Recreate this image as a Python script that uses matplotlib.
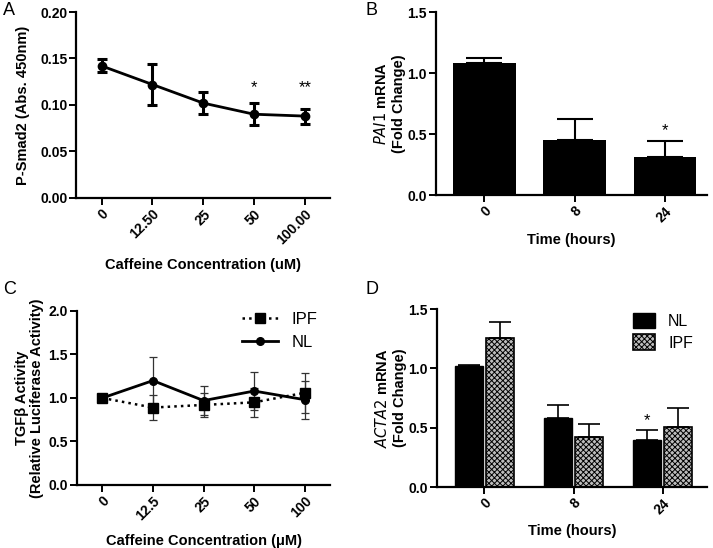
import matplotlib.pyplot as plt
from matplotlib.lines import Line2D
import numpy as np

plt.rcParams['font.family'] = ['Liberation Sans', 'DejaVu Sans']
plt.rcParams['hatch.linewidth'] = 0.7
plt.rcParams['hatch.color'] = '#444444'

# Panel A
a_labels = ['0', '12.50', '25', '50', '100.00']
a_vals = [0.142, 0.122, 0.102, 0.090, 0.088]
a_err = [0.007, 0.022, 0.012, 0.012, 0.008]
a_stars = ['', '', '', '*', '**']

# Panel B
b_labels = ['0', '8', '24']
b_vals = [1.08, 0.45, 0.31]
b_err = [0.04, 0.17, 0.13]
b_stars = ['', '', '*']

# Panel C
c_labels = ['0', '12.5', '25', '50', '100']
c_nl = [1.00, 1.20, 0.97, 1.08, 0.98]
c_nl_err = [0.0, 0.27, 0.17, 0.22, 0.22]
c_ipf = [1.00, 0.89, 0.92, 0.95, 1.06]
c_ipf_err = [0.0, 0.14, 0.14, 0.17, 0.23]

# Panel D
d_labels = ['0', '8', '24']
d_nl = [1.02, 0.58, 0.40]
d_nl_err = [0.005, 0.11, 0.08]
d_ipf = [1.26, 0.42, 0.51]
d_ipf_err = [0.13, 0.11, 0.16]
d_stars = ['', '', '*']

fig = plt.figure(figsize=(7.13, 5.48), dpi=100)
axA = fig.add_axes([0.107, 0.639, 0.356, 0.339])
axB = fig.add_axes([0.611, 0.644, 0.381, 0.334])
axC = fig.add_axes([0.108, 0.115, 0.355, 0.3175])
axD = fig.add_axes([0.613, 0.111, 0.379, 0.325])


def style(ax):
    ax.spines['top'].set_visible(False)
    ax.spines['right'].set_visible(False)
    ax.spines['left'].set_linewidth(1.6)
    ax.spines['bottom'].set_linewidth(1.6)
    ax.tick_params(width=1.4, length=5, labelsize=10, pad=1.5)
    for t in ax.get_yticklabels() + ax.get_xticklabels():
        t.set_fontweight('bold')


lab_kw = dict(fontsize=10.5, fontweight='bold')

# A
x = np.arange(len(a_vals))
axA.errorbar(x, a_vals, yerr=a_err, color='black', lw=2, marker='o', ms=6,
             capsize=3.5, elinewidth=2.2, capthick=2.2)
for xi, s in zip(x, a_stars):
    if s:
        axA.text(xi, 0.111, s, ha='center', va='bottom', fontsize=12)
axA.set_xlim(-0.5, 4.5)
axA.set_ylim(0, 0.2)
axA.set_yticks([0, 0.05, 0.10, 0.15, 0.20])
axA.set_yticklabels(['0.00', '0.05', '0.10', '0.15', '0.20'])
axA.set_xticks(x)
axA.set_xticklabels(a_labels, rotation=45, ha='right', rotation_mode='anchor')
axA.set_ylabel('P-Smad2 (Abs. 450nm)', labelpad=7, **lab_kw)
axA.set_xlabel('Caffeine Concentration (uM)', labelpad=8, **lab_kw)
style(axA)

# B
x = np.arange(len(b_vals))
axB.bar(x, b_vals, width=0.69, color='black')
axB.errorbar(x, b_vals, yerr=[np.zeros(len(b_err)), b_err], fmt='none',
             ecolor='black', elinewidth=1.5, capsize=13, capthick=1.5)
for xi, v, e, s in zip(x, b_vals, b_err, b_stars):
    if s:
        axB.text(xi, v + e + 0.03, s, ha='center', va='bottom', fontsize=12)
axB.set_xlim(-0.54, 2.47)
axB.set_ylim(0, 1.5)
axB.set_yticks([0, 0.5, 1.0, 1.5])
axB.set_xticks(x)
axB.set_xticklabels(b_labels, rotation=45, ha='right', rotation_mode='anchor')
axB.set_ylabel(r'$\it{PAI1}$ mRNA' + '\n(Fold Change)', labelpad=1,
               linespacing=1.25, **lab_kw)
axB.set_xlabel('Time (hours)', labelpad=6, **lab_kw)
style(axB)

# C
x = np.arange(len(c_nl))
axC.errorbar(x, c_ipf, yerr=c_ipf_err, color='black', lw=1.8, ls=':',
             marker='s', ms=6.5, capsize=3, elinewidth=0.9, ecolor='#333333',
             capthick=0.9)
axC.errorbar(x, c_nl, yerr=c_nl_err, color='black', lw=2, ls='-',
             marker='o', ms=5.5, capsize=3, elinewidth=0.9, ecolor='#333333',
             capthick=0.9)
axC.set_xlim(-0.5, 4.5)
axC.set_ylim(0, 2.0)
axC.set_yticks([0, 0.5, 1.0, 1.5, 2.0])
axC.set_xticks(x)
axC.set_xticklabels(c_labels, rotation=45, ha='right', rotation_mode='anchor')
axC.set_ylabel('TGF\u03b2 Activity\n(Relative Luciferase Activity)', labelpad=3,
               linespacing=1.15, **lab_kw)
axC.set_xlabel('Caffeine Concentration (\u03bcM)', labelpad=8, **lab_kw)
handles = [Line2D([], [], color='black', ls=':', lw=1.8, marker='s', ms=6.5),
           Line2D([], [], color='black', ls='-', lw=2, marker='o', ms=5.5)]
axC.legend(handles, ['IPF', 'NL'], loc='upper right', frameon=False,
           fontsize=12, handlelength=2.2, labelspacing=0.45,
           bbox_to_anchor=(1.01, 1.08))
style(axC)

# D
x = np.arange(len(d_nl))
w = 0.315
off = w / 2 + 0.017
axD.bar(x - off, d_nl, width=w, color='black', edgecolor='black', lw=1.0,
        label='NL')
axD.bar(x + off, d_ipf, width=w, color='#bdbdbd', edgecolor='black',
        hatch='xxxxxx', lw=1.2, label='IPF')
axD.errorbar(x - off, d_nl, yerr=[np.zeros(3), d_nl_err], fmt='none',
             ecolor='black', elinewidth=1.2, capsize=8, capthick=1.2)
axD.errorbar(x + off, d_ipf, yerr=[np.zeros(3), d_ipf_err], fmt='none',
             ecolor='black', elinewidth=1.2, capsize=8, capthick=1.2)
for xi, v, e, s in zip(x, d_nl, d_nl_err, d_stars):
    if s:
        axD.text(xi - off, v + e + 0.02, s, ha='center', va='bottom', fontsize=12)
axD.set_xlim(-0.53, 2.5)
axD.set_ylim(0, 1.5)
axD.set_yticks([0, 0.5, 1.0, 1.5])
axD.set_xticks(x)
axD.set_xticklabels(d_labels, rotation=45, ha='right', rotation_mode='anchor')
axD.set_ylabel(r'$\it{ACTA2}$ mRNA' + '\n(Fold Change)', labelpad=1,
               linespacing=1.25, **lab_kw)
axD.set_xlabel('Time (hours)', labelpad=5, **lab_kw)
axD.legend(loc='upper right', frameon=False, fontsize=11.5, handlelength=1.4,
           handleheight=1.1, labelspacing=0.35, bbox_to_anchor=(1.0, 1.06))
style(axD)

for lab, xx, yy in [('A', 0.004, 0.997), ('B', 0.513, 0.997),
                    ('C', 0.004, 0.487), ('D', 0.513, 0.487)]:
    fig.text(xx, yy, lab, fontsize=13, va='top')

fig.savefig('out.png', dpi=100)
